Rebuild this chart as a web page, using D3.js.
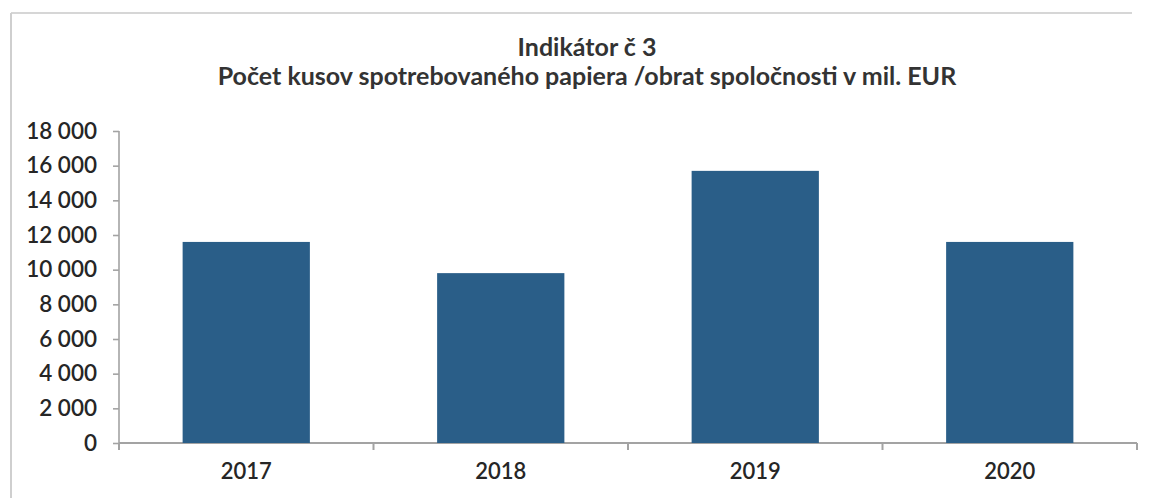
<!DOCTYPE html>
<html>
<head>
<meta charset="utf-8">
<script src="https://cdn.jsdelivr.net/npm/d3@7"></script>
<style>
  html, body { margin: 0; padding: 0; background: #fff; }
  svg { display: block; }
</style>
</head>
<body>
<svg id="chart" width="1156" height="498"></svg>
<script>
const categories = ["2017", "2018", "2019", "2020"];
const values = [11600, 9800, 15700, 11600];
const yTicks = [0, 2000, 4000, 6000, 8000, 10000, 12000, 14000, 16000, 18000];
const titleLines = ["Indikátor č 3", "Počet kusov spotrebovaného papiera /obrat spoločnosti v mil. EUR"];

const W = 1156, H = 498;
const plot = { left: 119, right: 1137, top: 131, bottom: 443 };
const font = "Lato, 'Open Sans', sans-serif";
const textColor = "#262626";
const axisColor = "#a3a3a3";
const barColor = "#2a5e88";

const svg = d3.select("#chart");

// frame (scanned chart border: top and left)
svg.append("line").attr("x1", 11).attr("x2", 1132).attr("y1", 13).attr("y2", 13)
  .attr("stroke", "#d6d6d6").attr("stroke-width", 2);
svg.append("line").attr("x1", 11).attr("x2", 11).attr("y1", 13).attr("y2", H)
  .attr("stroke", "#cfcfcf").attr("stroke-width", 2);

const x = d3.scaleBand().domain(categories).range([plot.left, plot.right])
  .paddingInner(0.5).paddingOuter(0.25);
const y = d3.scaleLinear().domain([0, 18000]).range([plot.bottom, plot.top]);

const fmt = v => d3.format(",")(v).replace(/,/g, "\u00a0");

// y axis
const yAxis = svg.append("g").attr("transform", `translate(${plot.left},0)`)
  .call(d3.axisLeft(y).tickValues(yTicks).tickFormat(fmt).tickSize(6).tickPadding(16));
yAxis.select(".domain").attr("stroke", axisColor).attr("stroke-width", 1.6)
  .attr("d", `M0,${plot.top}V${plot.bottom}`);
yAxis.selectAll(".tick line").attr("stroke", axisColor).attr("stroke-width", 1.6);
yAxis.selectAll(".tick text").attr("fill", textColor)
  .style("font-family", font).style("font-size", "22.5px").style("font-weight", 600);

// x axis
const xAxis = svg.append("g").attr("transform", `translate(0,${plot.bottom})`)
  .call(d3.axisBottom(x).tickSize(0).tickPadding(20));
xAxis.select(".domain").attr("stroke", axisColor).attr("stroke-width", 2)
  .attr("d", `M${plot.left},0H${plot.right}`);
xAxis.selectAll(".tick text").attr("fill", textColor)
  .style("font-family", font).style("font-size", "22px").style("font-weight", 600);

// category boundary ticks
const bounds = d3.range(categories.length + 1).map(i => plot.left + i * (plot.right - plot.left) / categories.length);
xAxis.selectAll(".btick").data(bounds).join("line").attr("class", "btick")
  .attr("x1", d => d).attr("x2", d => d).attr("y1", 0).attr("y2", 7)
  .attr("stroke", axisColor).attr("stroke-width", 2);

// bars
svg.append("g").selectAll("rect").data(categories).join("rect")
  .attr("x", d => x(d))
  .attr("width", x.bandwidth())
  .attr("y", (d, i) => y(values[i]))
  .attr("height", (d, i) => y(0) - y(values[i]))
  .attr("fill", barColor);

// title
svg.append("g").selectAll("text").data(titleLines).join("text")
  .attr("x", 587)
  .attr("y", (d, i) => 56 + i * 29)
  .attr("text-anchor", "middle")
  .attr("fill", "#333")
  .style("font-family", font).style("font-size", "25px").style("font-weight", 700)
  .text(d => d);
</script>
</body>
</html>
